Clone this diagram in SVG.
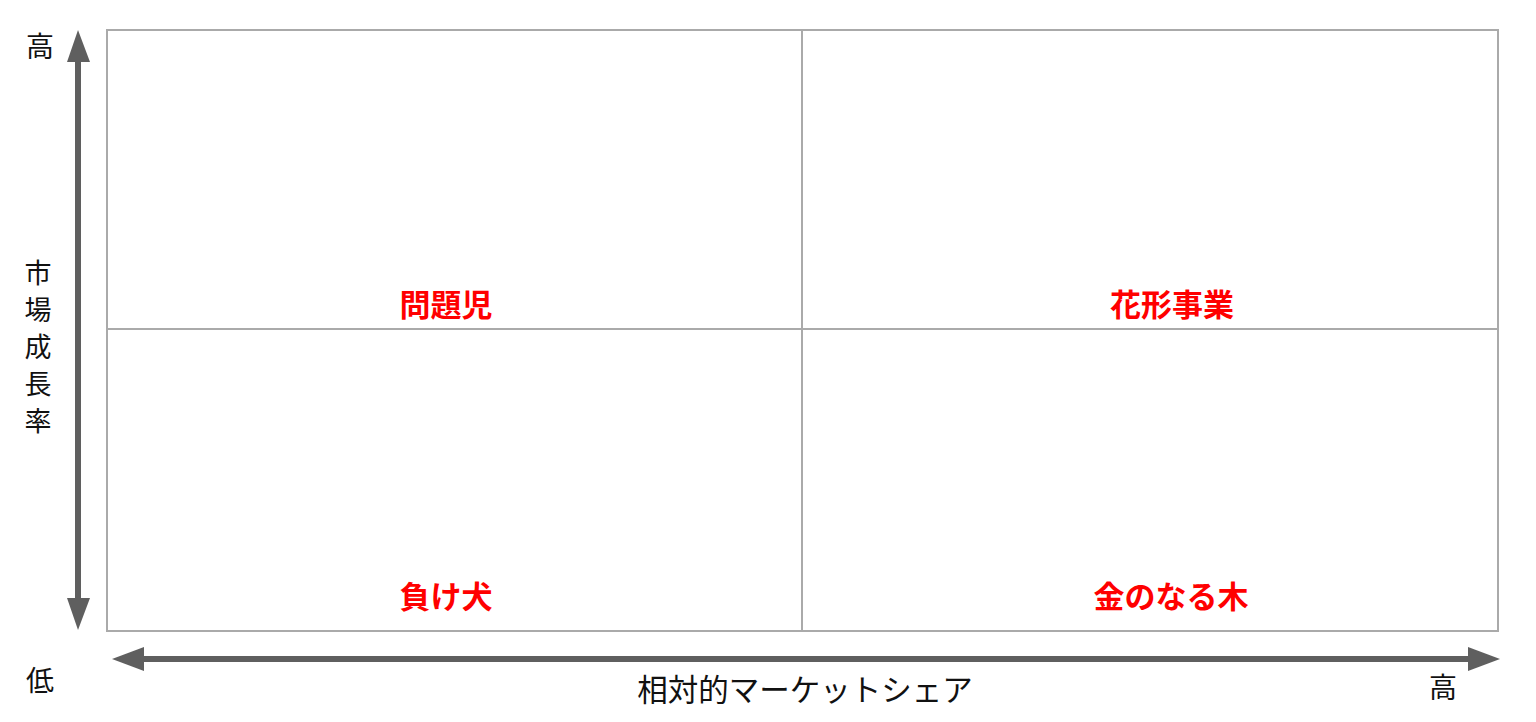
<svg xmlns="http://www.w3.org/2000/svg" width="1536" height="722" viewBox="0 0 1536 722">
<style>
.grid{fill:none;stroke:#aaaaaa;stroke-width:2}
.ax{stroke:#5f5f5f;stroke-width:6;fill:none}
.head{fill:#5f5f5f}
.t{font-family:"Noto Sans CJK JP","Noto Sans CJK SC",sans-serif;fill:#111;font-size:28px}
.v{font-family:"Noto Sans CJK JP","Noto Sans CJK SC",sans-serif;fill:#111;font-size:27px;text-anchor:middle}
.q{font-family:"Noto Sans CJK JP","Noto Sans CJK SC",sans-serif;fill:#ff0000;font-size:31px;font-weight:bold;text-anchor:middle}
</style>
<rect width="1536" height="722" fill="#ffffff"/>
<g id="grid">
<rect class="grid" x="107" y="30" width="1391" height="601"/>
<line class="grid" x1="802" y1="30" x2="802" y2="631"/>
<line class="grid" x1="107" y1="329" x2="1498" y2="329"/>
</g>
<g id="connectors">
<line class="ax" x1="78" y1="58" x2="78" y2="602"/>
<polygon class="head" points="78,30 67,62 90,62"/>
<polygon class="head" points="78,630 67,598 90,598"/>
<line class="ax" x1="140" y1="659" x2="1470" y2="659"/>
<polygon class="head" points="112,659 144,647 144,671"/>
<polygon class="head" points="1500,659 1468,647 1468,671"/>
</g>
<g id="labels">
<text class="t" x="40" y="57" text-anchor="middle">高</text>
<text class="t" x="40" y="691" text-anchor="middle">低</text>
<text class="t" x="1443" y="698" text-anchor="middle">高</text>
<text class="t" x="805" y="701" text-anchor="middle" style="font-size:30.5px">相対的マーケットシェア</text>
<text class="v" x="38" y="283">市</text>
<text class="v" x="38" y="320">場</text>
<text class="v" x="38" y="357">成</text>
<text class="v" x="38" y="394">長</text>
<text class="v" x="38" y="431">率</text>
</g>
<g id="q1"><text class="q" x="446" y="316">問題児</text></g>
<g id="q2"><text class="q" x="1172" y="316">花形事業</text></g>
<g id="q3"><text class="q" x="446" y="608">負け犬</text></g>
<g id="q4"><text class="q" x="1171" y="608">金のなる木</text></g>
</svg>
